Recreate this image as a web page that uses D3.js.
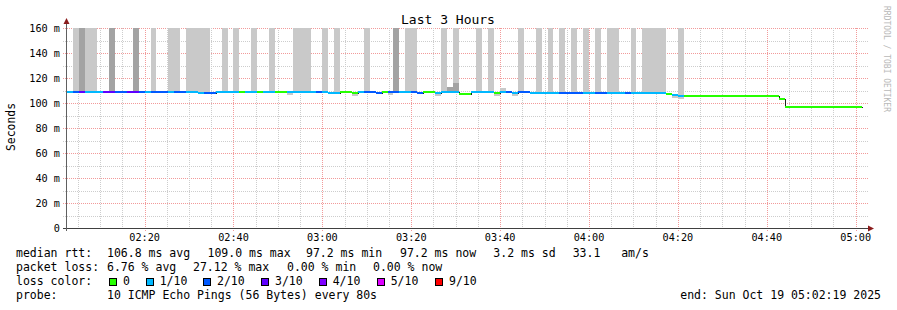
<!DOCTYPE html>
<html><head><meta charset="utf-8">
<script src="https://cdn.jsdelivr.net/npm/d3@7/dist/d3.min.js"></script>
<style>
body{margin:0;background:#fff}
svg text{font-family:"DejaVu Sans Mono",monospace;fill:#000;white-space:pre}
</style>
</head><body>
<svg id="c" width="897" height="310"></svg>
<script>
// ---------------- data ----------------
const title = "Last 3 Hours";
const yAxisLabel = "Seconds";
const watermark = "RRDTOOL / TOBI OETIKER";
const startTime = Date.UTC(2025, 9, 19, 2, 2, 19);
const endTime   = Date.UTC(2025, 9, 19, 5, 2, 19);
const firstSampleTime = Date.UTC(2025, 9, 19, 2, 1, 20);
const stepSeconds = 80;

// number of lost pings (of 10) per 80 s round -> line colour
const lossCount = [
  1,1,2,3,1,1,1,3,3,2,2,3,3,2,1,
  2,2,2,1,2,2,1,1,1,2,2,1,1,1,1,
  0,1,1,0,1,1,0,0,1,1,1,1,1,2,1,
  1,1,0,0,0,1,2,2,2,0,2,2,1,1,2,
  2,0,0,1,1,1,1,0,0,1,1,1,1,0,1,
  2,1,2,2,1,1,1,1,1,2,2,2,2,1,1,
  2,2,1,1,1,2,1,1,1,1,1,1,0,1,1,
  0,0,0,0,0,0,0,0,0,0,0,0,0,0,0,
  0,0,0,0,0,0,0,0,0,0,0,0,0,0,0
];
// median rtt (ms) per round
const medianRtt = [
  109.0,109.0,109.0,109.0,109.0,109.0,109.0,109.0,109.0,109.0,109.0,109.0,109.0,109.0,109.0,
  109.0,109.0,109.0,109.0,109.0,109.0,108.9,108.9,108.2,108.2,108.2,109.0,109.0,109.0,109.0,
  109.0,109.0,109.0,109.0,109.0,109.0,109.0,109.0,108.8,109.0,109.0,109.0,109.0,109.0,109.0,
  108.4,108.4,108.8,108.8,108.0,109.0,109.0,109.0,108.2,108.6,108.6,109.0,109.0,109.0,109.0,
  108.2,108.8,108.8,108.2,108.9,108.9,108.9,107.4,107.4,108.9,108.9,108.9,108.9,108.2,108.9,
  108.9,108.4,108.9,108.9,108.3,108.3,108.3,108.3,108.3,108.3,108.3,108.3,108.3,108.3,108.3,
  108.3,108.3,108.3,108.3,108.3,108.3,108.3,108.3,108.3,108.3,108.3,108.3,107.2,106.4,105.8,
  105.5,105.5,105.5,105.5,105.5,105.5,105.5,105.5,105.5,105.5,105.5,105.5,105.5,105.5,105.5,
  105.5,103.4,97.2,97.2,97.2,97.2,97.2,97.2,97.2,97.2,97.2,97.2,97.2,97.2,97.0
];
// smoke: lowest ping, top of outer (light) smoke, top of inner (dark) smoke; 0 = none
const smokeMin = [
  0,0,109.0,109.0,109.0,109.0,0,0,109.0,0,0,0,109.0,0,0,
  109.0,0,0,109.0,109.0,0,108.9,108.9,108.2,108.2,0,0,109.0,0,109.0,
  0,0,109.0,0,0,109.0,0,0,106.3,109.0,109.0,109.0,0,0,109.0,
  0,108.4,0,0,105.5,0,109.0,0,0,0,106.1,109.0,0,109.0,109.0,
  0,0,0,105.7,108.9,108.9,108.9,0,0,0,108.9,0,108.9,105.7,108.9,
  0,105.9,108.9,0,0,108.3,0,108.3,0,108.3,0,108.3,0,108.3,0,
  108.3,0,108.3,108.3,0,0,108.3,0,108.3,108.3,108.3,108.3,0,103.9,103.3,
  0,0,0,0,0,0,0,0,0,0,0,0,0,0,0,
  0,0,0,0,0,0,0,0,0,0,0,0,0,0,0
];
const smokeLightTop = [
  0,0,175,175,175,175,0,0,175,0,0,0,175,0,0,
  175,0,0,175,175,0,175,175,175,175,0,0,175,0,175,
  0,0,175,0,0,175,0,0,109.3,175,175,175,0,0,175,
  0,175,0,0,108.5,0,175,0,0,0,109.1,175,0,175,175,
  0,0,0,108.7,175,113,175,0,0,0,175,0,175,108.7,112,
  0,108.9,175,0,0,175,0,175,0,175,0,175,0,175,0,
  175,0,175,175,0,0,175,0,175,175,175,175,0,106.9,175,
  0,0,0,0,0,0,0,0,0,0,0,0,0,0,0,
  0,0,0,0,0,0,0,0,0,0,0,0,0,0,0
];
const smokeDarkTop = [
  0,0,0,175,0,0,0,0,175,0,0,0,175,0,0,
  0,0,0,0,0,0,0,0,0,0,0,0,0,0,0,
  0,0,0,0,0,0,0,0,0,0,0,0,0,0,0,
  0,0,0,0,0,0,0,0,0,0,0,175,0,0,0,
  0,0,0,0,0,113,116,0,0,0,0,0,0,0,0,
  0,0,0,0,0,0,0,0,0,0,0,0,0,0,0,
  0,0,0,0,0,0,0,0,0,0,0,0,0,0,0,
  0,0,0,0,0,0,0,0,0,0,0,0,0,0,0,
  0,0,0,0,0,0,0,0,0,0,0,0,0,0,0
];
const yTicks = [0, 20, 40, 60, 80, 100, 120, 140, 160];
const yTickLabels = ["0", "20 m", "40 m", "60 m", "80 m", "100 m", "120 m", "140 m", "160 m"];
const lossLevels = [0, 1, 2, 3, 4, 5, 9];
const lossLabels = ["0", "1/10", "2/10", "3/10", "4/10", "5/10", "9/10"];
const lossColors = ["#26ff00", "#00b8ff", "#0059ff", "#5e00ff", "#7e00ff", "#dd00ff", "#ff0000"];
const legendRtt = [["median rtt:", 16], ["106.8 ms avg", 107], ["109.0 ms max", 207.5], ["97.2 ms min", 306], ["97.2 ms now", 400], ["3.2 ms sd", 493.3], ["33.1   am/s", 572.7]];
const legendLoss = [["packet loss:", 16], ["6.76 % avg", 107], ["27.12 % max", 193], ["0.00 % min", 287], ["0.00 % now", 373]];
const legendLossBoxX = [109, 145.7, 203, 261, 318.7, 376.7, 435];
const probeLabel = "probe:";
const probeText = "10 ICMP Echo Pings (56 Bytes) every 80s";
const endText = "end: Sun Oct 19 05:02:19 2025";

// ---------------- chart ----------------
const svg = d3.select("#c");
const W = 897, H = 310;
svg.append("rect").attr("width", W).attr("height", H).attr("fill", "#fff");

const x = d3.scaleUtc().domain([startTime, endTime]).range([66, 866]);
const y = d3.scaleLinear().domain([0, 160]).range([228, 28]);
const plotL = 66, plotR = 866, plotT = y(160), plotB = y(0);

svg.append("defs").append("clipPath").attr("id", "plot")
  .append("rect").attr("x", plotL).attr("y", plotT).attr("width", plotR - plotL).attr("height", plotB - plotT);

const minorGrid = "#cdcdcd", majorGrid = "#f29a9a";
const g = svg.append("g").attr("shape-rendering", "crispEdges");

// horizontal grid
const hMinor = d3.range(10, 161, 10).filter(v => v % 20 !== 0);
g.selectAll(".hm").data(hMinor).join("line")
  .attr("x1", plotL - 3).attr("x2", plotR + 2)
  .attr("y1", d => Math.round(y(d)) + 0.5).attr("y2", d => Math.round(y(d)) + 0.5)
  .attr("stroke", minorGrid).attr("stroke-dasharray", "1,1");
g.selectAll(".hM").data(yTicks.slice(1)).join("line")
  .attr("x1", plotL - 3).attr("x2", plotR + 2)
  .attr("y1", d => Math.round(y(d)) + 0.5).attr("y2", d => Math.round(y(d)) + 0.5)
  .attr("stroke", majorGrid).attr("stroke-dasharray", "1,1");

// vertical grid
const t5 = d3.utcMinute.every(5).range(new Date(startTime), new Date(endTime));
const vMinor = t5.filter(d => d.getUTCMinutes() % 20 !== 0);
const vMajor = t5.filter(d => d.getUTCMinutes() % 20 === 0);
g.selectAll(".vm").data(vMinor).join("line")
  .attr("x1", d => Math.round(x(d)) + 0.5).attr("x2", d => Math.round(x(d)) + 0.5)
  .attr("y1", plotT).attr("y2", plotB + 2)
  .attr("stroke", minorGrid).attr("stroke-dasharray", "1,1");
g.selectAll(".vM").data(vMajor).join("line")
  .attr("x1", d => Math.round(x(d)) + 0.5).attr("x2", d => Math.round(x(d)) + 0.5)
  .attr("y1", plotT).attr("y2", plotB + 3)
  .attr("stroke", majorGrid).attr("stroke-dasharray", "1,1");

// samples
const samples = medianRtt.map((m, i) => ({
  t0: firstSampleTime + i * stepSeconds * 1000,
  t1: firstSampleTime + (i + 1) * stepSeconds * 1000,
  median: m, loss: lossCount[i],
  lo: smokeMin[i], light: smokeLightTop[i], dark: smokeDarkTop[i]
}));
const colorFor = l => {
  let idx = 0;
  lossLevels.forEach((lv, k) => { if (l >= lv) idx = k; });
  return lossColors[idx];
};

const data = svg.append("g").attr("clip-path", "url(#plot)").attr("shape-rendering", "crispEdges");
const sx0 = d => Math.round(x(d.t0)), sx1 = d => Math.round(x(d.t1));

// smoke
data.selectAll(".sl").data(samples.filter(d => d.light > 0)).join("rect")
  .attr("x", sx0).attr("width", d => sx1(d) - sx0(d))
  .attr("y", d => Math.round(y(Math.min(d.light, 160)))).attr("height", d => Math.round(y(d.lo)) - Math.round(y(Math.min(d.light, 160))))
  .attr("fill", "#c9c9c9");
data.selectAll(".sd").data(samples.filter(d => d.dark > 0)).join("rect")
  .attr("x", sx0).attr("width", d => sx1(d) - sx0(d))
  .attr("y", d => Math.round(y(Math.min(d.dark, 160)))).attr("height", d => Math.round(y(d.lo)) - Math.round(y(Math.min(d.dark, 160))))
  .attr("fill", "#a3a3a3");

// median dark step line
const stepPts = [];
samples.forEach(d => { stepPts.push([sx0(d), y(d.median)]); stepPts.push([sx1(d), y(d.median)]); });
data.append("path").attr("d", d3.line()(stepPts.map(p => [p[0] + 0.5, Math.round(p[1]) + 0.5])))
  .attr("fill", "none").attr("stroke", "#202020").attr("stroke-width", 1);

// median band coloured by loss
data.selectAll(".mb").data(samples).join("rect")
  .attr("x", sx0).attr("width", d => sx1(d) - sx0(d))
  .attr("y", d => Math.round(y(d.median) - 1)).attr("height", 2)
  .attr("fill", d => colorFor(d.loss));

// axes
const ax = svg.append("g").attr("shape-rendering", "crispEdges");
ax.append("line").attr("x1", plotL - 3).attr("x2", plotR + 4).attr("y1", plotB + 0.5).attr("y2", plotB + 0.5).attr("stroke", "#404040");
ax.append("line").attr("x1", plotL + 0.5).attr("x2", plotL + 0.5).attr("y1", plotB + 3).attr("y2", plotT - 6).attr("stroke", "#606060");
svg.append("path").attr("d", `M${plotL - 2.5},${plotT - 4} L${plotL + 3.5},${plotT - 4} L${plotL + 0.5},${plotT - 10} Z`).attr("fill", "#8b1c1c");
svg.append("path").attr("d", `M${plotR + 2},${plotB - 2.5} L${plotR + 2},${plotB + 3.5} L${plotR + 8},${plotB + 0.5} Z`).attr("fill", "#8b1c1c");

// tick labels
svg.selectAll(".yl").data(yTicks).join("text")
  .attr("x", 60).attr("y", d => y(d) + 3.5).attr("text-anchor", "end")
  .attr("font-size", "10.2px").text((d, i) => yTickLabels[i]);
svg.selectAll(".xl").data(vMajor).join("text")
  .attr("x", d => x(d)).attr("y", plotB + 13).attr("text-anchor", "middle")
  .attr("font-size", "10.2px").text(d => d3.utcFormat("%H:%M")(d));

// title & labels
svg.append("text").attr("x", 448).attr("y", 24).attr("text-anchor", "middle").attr("font-size", "13px").text(title);
svg.append("text").attr("transform", "translate(15,127) rotate(-90)").attr("text-anchor", "middle").attr("font-size", "11.4px").text(yAxisLabel);
svg.append("text").attr("transform", "translate(884,59) rotate(90)").attr("text-anchor", "middle").attr("font-size", "8px")
  .style("fill", "#b8b8b8").text(watermark);

// legend
const lg = svg.append("g").attr("font-size", "11.5px");
legendRtt.forEach(([t, px]) => lg.append("text").attr("x", px).attr("y", 257).text(t));
legendLoss.forEach(([t, px]) => lg.append("text").attr("x", px).attr("y", 271).text(t));
lg.append("text").attr("x", 16).attr("y", 285).text("loss color:");
lossLabels.forEach((l, i) => {
  lg.append("rect").attr("x", legendLossBoxX[i] + 0.5).attr("y", 278.5).attr("width", 7).attr("height", 7)
    .attr("fill", lossColors[i]).attr("stroke", "#000").attr("stroke-width", 1).attr("shape-rendering", "crispEdges");
  lg.append("text").attr("x", legendLossBoxX[i] + 14).attr("y", 285).text(l);
});
lg.append("text").attr("x", 16).attr("y", 299).text(probeLabel);
lg.append("text").attr("x", 107).attr("y", 299).text(probeText);
lg.append("text").attr("x", 881).attr("y", 299).attr("text-anchor", "end").text(endText);
</script>
</body></html>
